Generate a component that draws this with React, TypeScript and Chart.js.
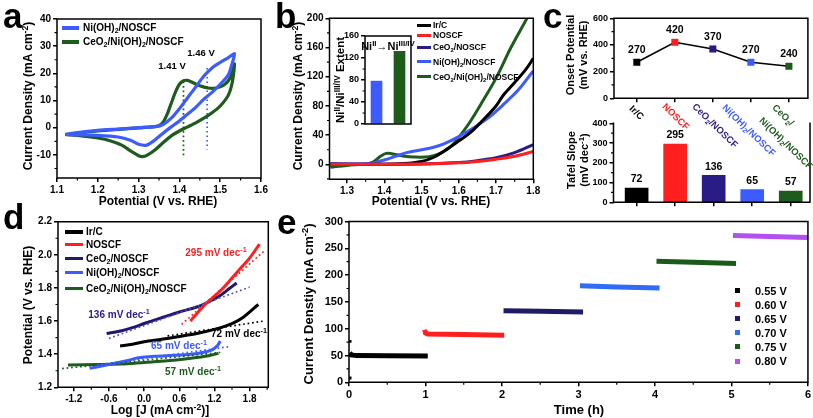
import React, { useEffect, useRef } from 'react';
import { Chart, registerables } from 'chart.js';

Chart.register(...registerables);

const W = 813;
const H = 418;
const FONT = '"Liberation Sans", Arial, Helvetica, sans-serif';

const BLACK = '#000000';
const RED = '#ff1f1f';
const NAVY = '#2a1c86';
const BLUE = '#3d5cff';
const GREEN = '#1d5c1d';

// ---------- Panel a : cyclic voltammograms ----------
const cvNiX = [1.12, 1.15, 1.2, 1.25, 1.3, 1.34, 1.36, 1.38, 1.40, 1.42, 1.44, 1.46, 1.48, 1.50, 1.52, 1.535,
  1.53, 1.52, 1.50, 1.48, 1.46, 1.44, 1.42, 1.40, 1.38, 1.36, 1.34, 1.32, 1.30, 1.28, 1.25, 1.20, 1.15, 1.12];
const cvNiY = [-2.5, -1.8, -1.0, -0.5, 0, 0.4, 1.2, 3.5, 7, 11, 15, 19, 22, 24, 25.8, 27.3,
  24, 19.5, 16, 13, 10.5, 7.5, 5, 2.5, 0.3, -2, -4.5, -6.4, -6.1, -4.6, -3.4, -2.8, -2.6, -2.5];
const cvCeX = [1.12, 1.16, 1.2, 1.25, 1.3, 1.34, 1.35, 1.36, 1.37, 1.38, 1.39, 1.40, 1.41, 1.42, 1.43, 1.45, 1.47, 1.49, 1.51, 1.525, 1.535,
  1.53, 1.52, 1.50, 1.48, 1.46, 1.44, 1.42, 1.40, 1.38, 1.36, 1.34, 1.32, 1.31, 1.30, 1.28, 1.26, 1.23, 1.20, 1.16, 1.12];
const cvCeY = [-2.5, -1.8, -1.2, -0.6, -0.1, 0.4, 0.8, 2, 5, 9, 13, 16, 17.3, 17.4, 16.8, 15.4, 14.6, 14.6, 15.8, 18.5, 23.5,
  17, 12, 8, 5.5, 3.5, 1.8, 0.3, -1.2, -3, -5.5, -8.2, -10.2, -10.6, -10.3, -8.5, -6.5, -4.8, -3.8, -3, -2.5];
const peakCeX = [1.41, 1.41];
const peakCeY = [17, -10.5];
const peakNiX = [1.468, 1.468];
const peakNiY = [22, -8];
const aXTicks = [1.1, 1.2, 1.3, 1.4, 1.5, 1.6];
const aYTicks = [-10, 0, 10, 20, 30, 40];

// ---------- Panel b : polarization curves ----------
const lsvIrX = [1.255, 1.4, 1.45, 1.5, 1.53, 1.56, 1.6, 1.63, 1.66, 1.7, 1.72, 1.75, 1.78, 1.8];
const lsvIrY = [0, 0, 1, 4, 9, 18, 32, 43, 58, 80, 95, 112, 130, 145];
const lsvNoX = [1.255, 1.5, 1.6, 1.65, 1.7, 1.75, 1.8];
const lsvNoY = [0, 0.5, 2, 4, 7, 11, 17.5];
const lsvCeX = [1.255, 1.5, 1.6, 1.65, 1.7, 1.75, 1.8];
const lsvCeY = [0, 0.5, 2.5, 5, 9, 16, 27];
const lsvNiX = [1.255, 1.36, 1.38, 1.4, 1.43, 1.46, 1.5, 1.53, 1.56, 1.6, 1.64, 1.68, 1.72, 1.76, 1.8];
const lsvNiY = [1, 1, 3, 6, 11, 16, 20, 23, 28, 38, 50, 64, 82, 102, 128];
const lsvCeNiX = [1.255, 1.3, 1.35, 1.37, 1.39, 1.405, 1.42, 1.45, 1.48, 1.52, 1.55, 1.58, 1.6, 1.63, 1.666, 1.7, 1.74, 1.783, 1.8];
const lsvCeNiY = [-4, -1.5, 0.5, 3, 11, 15, 14.5, 11.5, 10, 10.5, 15, 25, 37, 58, 88, 118, 160, 200, 217];
const bXTicks = [1.3, 1.4, 1.5, 1.6, 1.7, 1.8];
const bYTicks = [0, 40, 80, 120, 160, 200];
const insetLabels = ['Ni(OH)2/NOSCF', 'CeO2/Ni(OH)2/NOSCF'];
const insetValues = [78, 132];
const insetTicks = [0, 40, 80, 120, 160];

// ---------- Panel c : onset potential & Tafel slope ----------
const cPositions = [1, 2, 3, 4, 5];
const onsetPotential = [270, 420, 370, 270, 240];
const tafelSlope = [72, 295, 136, 65, 57];
const cOnsetTicks = [0, 200, 400, 600];
const cTafelTicks = [0, 100, 200, 300, 400];

// ---------- Panel d : Tafel plots ----------
const dIrX = [-0.41, -0.2, 0, 0.3, 0.6, 0.9, 1.2, 1.5, 1.7, 1.95];
const dIrY = [1.45, 1.46, 1.475, 1.49, 1.507, 1.525, 1.55, 1.585, 1.625, 1.70];
const dNoX = [0.79, 0.9, 1.0, 1.1, 1.2, 1.35, 1.5, 1.65, 1.8, 1.97];
const dNoY = [1.60, 1.645, 1.685, 1.72, 1.75, 1.80, 1.86, 1.92, 1.98, 2.065];
const dCeX = [-0.64, -0.4, -0.2, 0, 0.3, 0.6, 0.9, 1.1, 1.3, 1.45, 1.58];
const dCeY = [1.525, 1.54, 1.56, 1.585, 1.62, 1.655, 1.685, 1.715, 1.755, 1.795, 1.83];
const dNiX = [-0.93, -0.7, -0.5, -0.3, -0.1, 0.2, 0.5, 0.8, 1.0, 1.15, 1.25, 1.3];
const dNiY = [1.315, 1.33, 1.345, 1.36, 1.378, 1.388, 1.393, 1.40, 1.41, 1.425, 1.45, 1.48];
const dCeNiX = [-1.3, -0.8, -0.4, 0, 0.4, 0.8, 1.1, 1.27];
const dCeNiY = [1.335, 1.337, 1.34, 1.35, 1.36, 1.375, 1.39, 1.405];
const dIrFitX = [0.4, 2.04];
const dIrFitY = [1.51, 1.60];
const dNoFitX = [0.64, 2.04];
const dNoFitY = [1.58, 2.02];
const dCeFitX = [-0.6, 1.8];
const dCeFitY = [1.495, 1.805];
const dNiFitX = [-0.8, 1.45];
const dNiFitY = [1.335, 1.445];
const dCeNiFitX = [-1.4, 1.3];
const dCeNiFitY = [1.313, 1.41];
const dXTicks = [-1.2, -0.6, 0, 0.6, 1.2, 1.8];
const dYTicks = [1.2, 1.4, 1.6, 1.8, 2.0, 2.2];

// ---------- Panel e : chronoamperometry ----------
const e055X = [0, 0, 0, 0, 0, 0, 0.01, 0.03, 0.1, 0.5, 1.03];
const e055Y = [5, 11, null, 74, 79, null, 55, 51, 49.8, 49.4, 49];
const e060X = [0.99, 1.0, 1.03, 1.5, 2.03];
const e060Y = [98, 92, 90, 89, 88];
const e065X = [2.02, 2.5, 3.06];
const e065Y = [133.5, 132.5, 131];
const e070X = [3.02, 3.5, 4.06];
const e070Y = [180, 178, 176];
const e075X = [4.02, 4.5, 5.06];
const e075Y = [226, 224, 221.5];
const e080X = [5.02, 5.5, 6.0];
const e080Y = [274, 272, 270];
const eLabels = ['0.55 V', '0.60 V', '0.65 V', '0.70 V', '0.75 V', '0.80 V'];
const eColors = ['#000000', '#ff1f1f', '#1f1b66', '#2f6cf7', '#1b5a1b', '#b550f0'];
const eXTicks = [0, 1, 2, 3, 4, 5, 6];
const eYTicks = [0, 50, 100, 150, 200, 250, 300];

// ---------- helpers ----------
const zip = (xs: number[], ys: (number | null)[]) => xs.map((x, i) => ({ x, y: ys[i] }));
const f1 = (v: number) => Number(v).toFixed(1);

const AXW = 40;
const AXH = 22;
const padFor = (L: number, T: number, R: number, B: number) => ({ left: L - AXW, top: T, right: W - R, bottom: H - B - AXH });

function linAxis(axis: 'x' | 'y', min: number, max: number, ticks: number[], opts: any = {}) {
  const { fmt, size = 10, hide = false } = opts;
  return {
    type: 'linear',
    min,
    max,
    offset: false,
    afterFit: (s: any) => {
      if (axis === 'x') s.height = AXH;
      else s.width = AXW;
    },
    afterBuildTicks: (s: any) => {
      s.ticks = ticks.map((v) => ({ value: v }));
    },
    grid: { display: true, drawOnChartArea: false, drawTicks: true, tickLength: 4, color: '#000', lineWidth: 1.5, offset: false },
    border: { display: false },
    ticks: {
      color: '#000',
      font: { family: FONT, size, weight: 'bold' },
      padding: 2,
      maxRotation: 0,
      minRotation: 0,
      autoSkip: false,
      callback: (v: any) => (hide ? '' : fmt ? fmt(v) : String(v)),
    },
  };
}

function baseOptions(pad: any, scales: any, plugins: any = {}) {
  return {
    responsive: false,
    maintainAspectRatio: false,
    animation: false,
    devicePixelRatio: 1,
    events: [],
    layout: { padding: pad },
    scales,
    plugins: { legend: { display: false }, tooltip: { enabled: false }, ...plugins },
  };
}

const decoPlugin: any = {
  id: 'deco',
  beforeDatasetsDraw(chart: any, _a: any, o: any) {
    if (!o || !o.fill) return;
    const a = chart.chartArea;
    const ctx = chart.ctx;
    ctx.save();
    ctx.fillStyle = o.fill;
    ctx.fillRect(a.left, a.top, a.right - a.left, a.bottom - a.top);
    ctx.restore();
  },
  afterDraw(chart: any, _a: any, o: any) {
    if (!o || !o.sides) return;
    const { ctx, chartArea: a } = chart;
    ctx.save();
    ctx.strokeStyle = '#000';
    ctx.lineWidth = 1.5;
    ctx.lineCap = 'square';
    const s: string = o.sides;
    ctx.beginPath();
    if (s.includes('l')) { ctx.moveTo(a.left, a.top); ctx.lineTo(a.left, a.bottom); }
    if (s.includes('b')) { ctx.moveTo(a.left, a.bottom); ctx.lineTo(a.right, a.bottom); }
    if (s.includes('r')) { ctx.moveTo(a.right, a.top); ctx.lineTo(a.right, a.bottom); }
    if (s.includes('t')) { ctx.moveTo(a.left, a.top); ctx.lineTo(a.right, a.top); }
    ctx.stroke();
    ctx.lineCap = 'butt';
    ctx.lineWidth = 1.2;
    ctx.beginPath();
    const doMinor = (id: string, step: number) => {
      const sc = chart.scales[id];
      if (!sc || !step) return;
      const majors = sc.ticks.map((t: any) => t.value);
      const k0 = Math.ceil(sc.min / step - 1e-6);
      for (let k = k0; k * step <= sc.max + 1e-6; k++) {
        const v = k * step;
        if (majors.some((m: number) => Math.abs(m - v) < step * 1e-3)) continue;
        const p = sc.getPixelForValue(v);
        if (id === 'x') { ctx.moveTo(p, a.bottom); ctx.lineTo(p, a.bottom + 2.5); }
        else { ctx.moveTo(a.left, p); ctx.lineTo(a.left - 2.5, p); }
      }
    };
    doMinor('x', o.minorX);
    doMinor('y', o.minorY);
    ctx.stroke();
    ctx.restore();
  },
};

const valsPlugin: any = {
  id: 'vals',
  afterDatasetsDraw(chart: any, _a: any, o: any) {
    if (!o || o.ds === undefined) return;
    const ctx = chart.ctx;
    const meta = chart.getDatasetMeta(o.ds);
    const ds = chart.data.datasets[o.ds];
    ctx.save();
    ctx.font = `bold ${o.size || 10}px ${FONT}`;
    ctx.fillStyle = '#000';
    ctx.textAlign = 'center';
    ctx.textBaseline = 'middle';
    meta.data.forEach((el: any, i: number) => {
      const d = ds.data[i];
      const v = typeof d === 'object' ? d.y : d;
      ctx.fillText(String(v), el.x, el.y - (o.off || 10));
    });
    ctx.restore();
  },
};

Chart.register(decoPlugin, valsPlugin);

const line = (xs: number[], ys: (number | null)[], color: string, width = 3, extra: any = {}) => ({
  data: zip(xs, ys),
  showLine: true,
  borderColor: color,
  backgroundColor: color,
  borderWidth: width,
  pointRadius: 0,
  ...extra,
});
const dotted = (xs: number[], ys: number[], color: string) =>
  line(xs, ys, color, 1.7, { borderDash: [1.7, 2.8] });

// ---------- chart factories ----------
const makers: (() => any)[] = [
  // panel a
  () => ({
    type: 'scatter',
    data: {
      datasets: [
        line(cvNiX, cvNiY, BLUE, 3.2, { tension: 0.25 }),
        line(cvCeX, cvCeY, GREEN, 3.2, { tension: 0.25 }),
        dotted(peakCeX, peakCeY, GREEN),
        dotted(peakNiX, peakNiY, BLUE),
      ],
    },
    options: baseOptions(padFor(57, 19, 261, 178), {
      x: linAxis('x', 1.1, 1.6, aXTicks, { fmt: f1 }),
      y: linAxis('y', -18.5, 40, aYTicks),
    }, { deco: { sides: 'ltrb', minorX: 0.05, minorY: 5 } }),
  }),
  // panel b
  () => ({
    type: 'scatter',
    data: {
      datasets: [
        line(lsvNoX, lsvNoY, RED, 3, { tension: 0.35 }),
        line(lsvCeX, lsvCeY, NAVY, 3, { tension: 0.35 }),
        line(lsvIrX, lsvIrY, BLACK, 3, { tension: 0.35 }),
        line(lsvNiX, lsvNiY, BLUE, 3, { tension: 0.35 }),
        line(lsvCeNiX, lsvCeNiY, GREEN, 3, { tension: 0.35 }),
      ],
    },
    options: baseOptions(padFor(329.5, 18.3, 533.3, 179.3), {
      x: linAxis('x', 1.253, 1.8, bXTicks, { fmt: f1 }),
      y: linAxis('y', -20.5, 200, bYTicks),
    }, { deco: { sides: 'ltrb', minorX: 0.05, minorY: 20 } }),
  }),
  // panel b inset
  () => ({
    type: 'bar',
    data: {
      labels: insetLabels,
      datasets: [{ data: insetValues, backgroundColor: [BLUE, GREEN], borderWidth: 0, barThickness: 11 }],
    },
    options: baseOptions(padFor(365, 36, 411, 124), {
      x: {
        type: 'category',
        offset: true,
        afterFit: (s: any) => { s.height = AXH; },
        grid: { display: false },
        border: { display: false },
        ticks: { display: false },
      },
      y: linAxis('y', 0, 160, insetTicks, { size: 9 }),
    }, { deco: { sides: 'ltrb', fill: '#ffffff', minorY: 20 } }),
  }),
  // panel c top
  () => ({
    type: 'scatter',
    data: {
      datasets: [
        {
          data: zip(cPositions, onsetPotential),
          showLine: true,
          borderColor: BLACK,
          borderWidth: 1.6,
          pointStyle: 'rect',
          pointRadius: 4.6,
          pointBackgroundColor: [BLACK, RED, NAVY, BLUE, GREEN],
          pointBorderColor: [BLACK, RED, NAVY, BLUE, GREEN],
          pointBorderWidth: 0.5,
        },
      ],
    },
    options: baseOptions(padFor(614, 18.3, 809, 98.3), {
      x: linAxis('x', 0.4, 5.5, cPositions, { hide: true }),
      y: linAxis('y', 0, 600, cOnsetTicks, { size: 9 }),
    }, { deco: { sides: 'ltrb', minorY: 100 }, vals: { ds: 0, off: 12, size: 10.5 } }),
  }),
  // panel c bottom
  () => ({
    type: 'bar',
    data: {
      datasets: [
        {
          data: zip(cPositions, tafelSlope),
          backgroundColor: [BLACK, RED, NAVY, BLUE, GREEN],
          borderWidth: 0,
          barThickness: 23,
        },
      ],
    },
    options: baseOptions(padFor(613.5, 123.3, 810, 202.3), {
      x: linAxis('x', 0.4, 5.5, cPositions, { hide: true }),
      y: linAxis('y', 0, 400, cTafelTicks, { size: 9 }),
    }, { deco: { sides: 'lbr', minorY: 50 }, vals: { ds: 0, off: 8.5, size: 10.5 } }),
  }),
  // panel d
  () => ({
    type: 'scatter',
    data: {
      datasets: [
        dotted(dIrFitX, dIrFitY, BLACK),
        dotted(dNoFitX, dNoFitY, RED),
        dotted(dCeFitX, dCeFitY, '#5b4bc4'),
        dotted(dNiFitX, dNiFitY, BLUE),
        dotted(dCeNiFitX, dCeNiFitY, GREEN),
        line(dIrX, dIrY, BLACK, 3, { tension: 0.3 }),
        line(dNoX, dNoY, RED, 3, { tension: 0.3 }),
        line(dCeX, dCeY, '#1d1a6e', 3, { tension: 0.3 }),
        line(dNiX, dNiY, BLUE, 3, { tension: 0.3 }),
        line(dCeNiX, dCeNiY, GREEN, 3, { tension: 0.3 }),
      ],
    },
    options: baseOptions(padFor(58, 221.7, 268.3, 387.3), {
      x: linAxis('x', -1.47, 2.12, dXTicks, { fmt: f1 }),
      y: linAxis('y', 1.2, 2.2, dYTicks, { fmt: f1 }),
    }, { deco: { sides: 'ltrb', minorX: 0.3, minorY: 0.1 } }),
  }),
  // panel e
  () => ({
    type: 'scatter',
    data: {
      datasets: [
        line(e055X, e055Y, eColors[0], 5),
        line(e060X, e060Y, eColors[1], 5),
        line(e065X, e065Y, eColors[2], 5),
        line(e070X, e070Y, eColors[3], 5),
        line(e075X, e075Y, eColors[4], 5),
        line(e080X, e080Y, eColors[5], 5),
      ],
    },
    options: baseOptions(padFor(349, 221.5, 808.3, 382.3), {
      x: linAxis('x', 0, 6, eXTicks, { size: 11 }),
      y: linAxis('y', 0, 300, eYTicks, { size: 11 }),
    }, { deco: { sides: 'ltrb', minorX: 0.5, minorY: 25 } }),
  }),
];

function ChartCanvas({ make }: { make: () => any }) {
  const ref = useRef<HTMLCanvasElement | null>(null);
  useEffect(() => {
    if (!ref.current) return;
    const ch = new Chart(ref.current, make());
    return () => ch.destroy();
  }, [make]);
  return (
    <canvas
      ref={ref}
      width={W}
      height={H}
      style={{ position: 'absolute', left: 0, top: 0, width: W, height: H }}
    />
  );
}

// ---------- overlay text helpers ----------
const Sub = ({ children }: any) => (
  <sub style={{ fontSize: '0.7em', verticalAlign: '-0.3em', lineHeight: 0 }}>{children}</sub>
);
const Sup = ({ children }: any) => (
  <sup style={{ fontSize: '0.72em', verticalAlign: '0.5em', lineHeight: 0 }}>{children}</sup>
);

function Txt({ x, y, size = 10, color = '#000', align = 'left', rot = 0, lh, children }: any) {
  const tx = align === 'center' ? '-50%' : align === 'right' ? '-100%' : '0';
  const style: any = {
    position: 'absolute',
    left: x,
    top: y,
    fontFamily: FONT,
    fontWeight: 700,
    fontSize: size,
    color,
    whiteSpace: 'nowrap',
    lineHeight: lh ? `${lh}px` : 1,
    textAlign: 'center',
    transform: `translate(${tx}, -50%) rotate(${rot}deg)`,
    transformOrigin: align === 'left' && rot ? '0 50%' : '50% 50%',
  };
  return <div style={style}>{children}</div>;
}

const LLine = ({ x1, x2, y, color, h = 3 }: any) => (
  <div style={{ position: 'absolute', left: x1, top: y - h / 2, width: x2 - x1, height: h, background: color }} />
);

const Letter = ({ x, y, children }: any) => (
  <div style={{ position: 'absolute', left: x, top: y, fontFamily: FONT, fontWeight: 700, fontSize: 35, lineHeight: 1 }}>
    {children}
  </div>
);

const Ni2 = () => (<>Ni(OH)<Sub>2</Sub>/NOSCF</>);
const Ce2 = () => (<>CeO<Sub>2</Sub>/NOSCF</>);
const CeNi = () => (<>CeO<Sub>2</Sub>/Ni(OH)<Sub>2</Sub>/NOSCF</>);

const bLegendY = [25, 35, 47, 61.5, 76.5];
const dLegendY = [232, 244.5, 258.5, 272.5, 288.5];
const eLegendY = [290.7, 304.5, 318.5, 332.7, 346.7, 361];
const legendColors = [BLACK, RED, NAVY, BLUE, GREEN];
const legendNames = [<>Ir/C</>, <>NOSCF</>, <Ce2 />, <Ni2 />, <CeNi />];

export default function App() {
  return (
    <div style={{ position: 'absolute', left: 0, top: 0, width: W, height: H, background: '#fff', overflow: 'hidden' }}>
      {makers.map((mk, i) => (
        <ChartCanvas key={i} make={mk} />
      ))}

      {/* panel letters */}
      <Letter x={3} y={-2}>a</Letter>
      <Letter x={275} y={-2}>b</Letter>
      <Letter x={543} y={-2}>c</Letter>
      <Letter x={3} y={199}>d</Letter>
      <Letter x={277} y={204}>e</Letter>

      {/* panel a */}
      <LLine x1={62} x2={79} y={28} color={BLUE} h={3.5} />
      <Txt x={83} y={28} size={10}><Ni2 /></Txt>
      <LLine x1={62} x2={79} y={42} color={GREEN} h={3.5} />
      <Txt x={83} y={42} size={10}><CeNi /></Txt>
      <Txt x={172} y={66} size={9.5} align="center">1.41 V</Txt>
      <Txt x={201} y={53} size={9.5} align="center">1.46 V</Txt>
      <Txt x={28} y={96} size={12} align="center" rot={-90}>Current Density (mA cm<Sup>-2</Sup>)</Txt>
      <Txt x={158} y={201} size={12} align="center">Potential (V vs. RHE)</Txt>

      {/* panel b */}
      {bLegendY.map((y, i) => (
        <React.Fragment key={'bl' + i}>
          <LLine x1={417} x2={431} y={y} color={legendColors[i]} h={3} />
          <Txt x={433} y={y} size={8.5}>{legendNames[i]}</Txt>
        </React.Fragment>
      ))}
      <Txt x={388} y={46} size={11} align="center">Ni<Sup>II</Sup>→Ni<Sup>III/IV</Sup></Txt>
      <Txt x={341} y={80} size={11.5} align="center" rot={-90}>Ni<Sup>II</Sup>/Ni<Sup>III/IV</Sup> Extent</Txt>
      <Txt x={298} y={96} size={12} align="center" rot={-90}>Current Density (mA cm<Sup>-2</Sup>)</Txt>
      <Txt x={431} y={201} size={12} align="center">Potential (V vs. RHE)</Txt>

      {/* panel c */}
      <Txt x={577} y={55} size={11} lh={13} align="center" rot={-90}>Onset Potential<br />(mV vs. RHE)</Txt>
      <Txt x={578} y={160} size={11} lh={13} align="center" rot={-90}>Tafel Slope<br />(mV dec<Sup>-1</Sup>)</Txt>
      <Txt x={631} y={107} size={9.5} rot={44} color={BLACK}>Ir/C</Txt>
      <Txt x={664} y={105} size={9.5} rot={44} color={RED}>NOSCF</Txt>
      <Txt x={694} y={105} size={9.5} rot={44} color={NAVY}><Ce2 /></Txt>
      <Txt x={724} y={106} size={9.5} rot={44} color={BLUE}><Ni2 /></Txt>
      <Txt x={774} y={106} size={9.5} rot={44} color={GREEN}>CeO<Sub>2</Sub>/</Txt>
      <Txt x={761} y={119} size={9.5} rot={44} color={GREEN}><Ni2 /></Txt>

      {/* panel d */}
      {dLegendY.map((y, i) => (
        <React.Fragment key={'dl' + i}>
          <LLine x1={65} x2={83} y={y} color={i === 2 ? '#1d1a6e' : legendColors[i]} h={3.5} />
          <Txt x={86} y={y} size={10}>{legendNames[i]}</Txt>
        </React.Fragment>
      ))}
      <Txt x={216} y={253} size={10} align="center" color={RED}>295 mV dec<Sup>-1</Sup></Txt>
      <Txt x={119} y={315} size={10} align="center" color={NAVY}>136 mV dec<Sup>-1</Sup></Txt>
      <Txt x={239} y={334} size={10} align="center" color={BLACK}>72 mV dec<Sup>-1</Sup></Txt>
      <Txt x={179} y={346} size={10} align="center" color={BLUE}>65 mV dec<Sup>-1</Sup></Txt>
      <Txt x={193} y={372} size={10} align="center" color={GREEN}>57 mV dec<Sup>-1</Sup></Txt>
      <Txt x={28} y={305} size={12} align="center" rot={-90}>Potential (V vs. RHE)</Txt>
      <Txt x={160} y={410} size={12} align="center">Log [J (mA cm<Sup>-2</Sup>)]</Txt>

      {/* panel e */}
      {eLegendY.map((y, i) => (
        <React.Fragment key={'el' + i}>
          <div style={{ position: 'absolute', left: 734.5, top: y - 2.5, width: 5, height: 5, background: eColors[i] }} />
          <Txt x={755} y={y} size={11}>{eLabels[i]}</Txt>
        </React.Fragment>
      ))}
      <Txt x={308} y={304} size={13} align="center" rot={-90}>Current Denstiy (mA cm<Sup>-2</Sup>)</Txt>
      <Txt x={579} y={409} size={13} align="center">Time (h)</Txt>
    </div>
  );
}
